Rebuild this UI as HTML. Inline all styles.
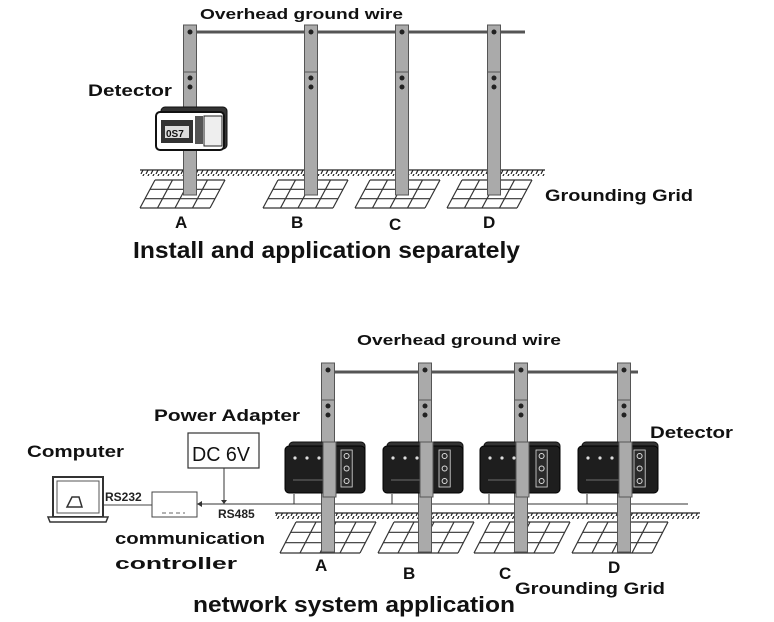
<!DOCTYPE html>
<html><head><meta charset="utf-8"><style>
html,body{margin:0;padding:0;background:#fff;}
svg{display:block;font-family:"Liberation Sans","DejaVu Sans",sans-serif;font-weight:bold;}
</style></head><body>
<svg id="s" width="774" height="622" viewBox="0 0 774 622" xmlns="http://www.w3.org/2000/svg">
<defs>
<pattern id="hatch" width="5" height="6" patternUnits="userSpaceOnUse">
<line x1="4" y1="0" x2="1" y2="6" stroke="#222" stroke-width="1.2"/>
</pattern>
</defs>
<line x1="190" y1="32" x2="525" y2="32" stroke="#555" stroke-width="3"/>
<rect x="140" y="170" width="405" height="6" fill="url(#hatch)"/>
<line x1="140" y1="170" x2="545" y2="170" stroke="#222" stroke-width="1.2"/>
<g id="top"></g>
<text x="200" y="19" font-size="15" fill="#111" textLength="203" lengthAdjust="spacingAndGlyphs">Overhead ground wire</text>
<text x="88" y="96" font-size="17" fill="#111" textLength="84" lengthAdjust="spacingAndGlyphs">Detector</text>
<text x="545" y="201" font-size="17" fill="#111" textLength="148" lengthAdjust="spacingAndGlyphs">Grounding Grid</text>
<text x="175" y="228" font-size="17" fill="#111">A</text>
<text x="291" y="228" font-size="17" fill="#111">B</text>
<text x="389" y="230" font-size="17" fill="#111">C</text>
<text x="483" y="228" font-size="17" fill="#111">D</text>
<text x="133" y="258" font-size="23" fill="#111" textLength="387" lengthAdjust="spacingAndGlyphs">Install and application separately</text>
<line x1="328" y1="372" x2="638" y2="372" stroke="#555" stroke-width="3"/>
<rect x="275" y="513" width="425" height="6" fill="url(#hatch)"/>
<line x1="275" y1="513" x2="700" y2="513" stroke="#222" stroke-width="1.2"/>
<line x1="197" y1="504" x2="688" y2="504" stroke="#333" stroke-width="1"/>
<g id="bot"></g>
<text x="357" y="345" font-size="15" fill="#111" textLength="204" lengthAdjust="spacingAndGlyphs">Overhead ground wire</text>
<text x="650" y="438" font-size="17" fill="#111" textLength="83" lengthAdjust="spacingAndGlyphs">Detector</text>
<text x="515" y="594" font-size="17" fill="#111" textLength="150" lengthAdjust="spacingAndGlyphs">Grounding Grid</text>
<text x="315" y="571" font-size="17" fill="#111">A</text>
<text x="403" y="579" font-size="17" fill="#111">B</text>
<text x="499" y="579" font-size="17" fill="#111">C</text>
<text x="608" y="573" font-size="17" fill="#111">D</text>
<text x="193" y="612" font-size="22" fill="#111" textLength="322" lengthAdjust="spacingAndGlyphs">network system application</text>
<text x="27" y="457" font-size="17" fill="#111" textLength="97" lengthAdjust="spacingAndGlyphs">Computer</text>
<text x="154" y="421" font-size="17" fill="#111" textLength="146" lengthAdjust="spacingAndGlyphs">Power Adapter</text>
<rect x="188" y="433" width="71" height="35" fill="#fff" stroke="#333" stroke-width="1.2"/>
<text x="192" y="461" font-size="20" font-weight="normal" fill="#111" textLength="58" lengthAdjust="spacingAndGlyphs">DC 6V</text>
<line x1="224" y1="468" x2="224" y2="503" stroke="#333"/>
<polygon points="221,500 227,500 224,504" fill="#333"/>
<rect x="152" y="492" width="45" height="25" fill="#fff" stroke="#444" stroke-width="1"/>
<line x1="162" y1="513" x2="185" y2="513" stroke="#666" stroke-dasharray="4,3"/>
<polygon points="197,504 202,501 202,507" fill="#333"/>
<text x="218" y="518" font-size="12" fill="#222">RS485</text>
<text x="105" y="501" font-size="12" fill="#222">RS232</text>
<line x1="101" y1="505" x2="152" y2="505" stroke="#444"/>
<rect x="53" y="477" width="50" height="40" fill="#fff" stroke="#333" stroke-width="2"/>
<rect x="57" y="481" width="42" height="32" fill="#fff" stroke="#555"/>
<polygon points="48,517 108,517 106,522 50,522" fill="#fff" stroke="#333" stroke-width="1.5"/>
<path d="M67 507 L72 497 L79 497 L82 507 Z" fill="none" stroke="#333" stroke-width="1.5"/>
<text x="115" y="544" font-size="17" fill="#111" textLength="150" lengthAdjust="spacingAndGlyphs">communication</text>
<text x="115" y="569" font-size="17" fill="#111" textLength="122" lengthAdjust="spacingAndGlyphs">controller</text>
</svg>
<script>
var NS="http://www.w3.org/2000/svg";
function el(p,t,a){var e=document.createElementNS(NS,t);for(var k in a)e.setAttribute(k,a[k]);p.appendChild(e);return e;}
function grid(p,x,y,w,h,sk){
  var g=el(p,"g",{stroke:"#333","stroke-width":"1.2",fill:"none"});
  for(var i=0;i<=3;i++){var yy=y+h*i/3,off=sk*(1-i/3);el(g,"line",{x1:x+off,y1:yy,x2:x+off+w,y2:yy});}
  for(var j=0;j<=4;j++){var xx=x+w*j/4;el(g,"line",{x1:xx+sk,y1:y,x2:xx,y2:y+h});}
}
function pole(p,cx,top,bot,joint,w){
  el(p,"rect",{x:cx-w/2,y:top,width:w,height:bot-top,fill:"#aaa",stroke:"#555","stroke-width":"1"});
  el(p,"line",{x1:cx-w/2,y1:joint,x2:cx+w/2,y2:joint,stroke:"#555"});
  el(p,"circle",{cx:cx,cy:top+7,r:2.5,fill:"#222"});
  el(p,"circle",{cx:cx,cy:joint+6,r:2.5,fill:"#222"});
  el(p,"circle",{cx:cx,cy:joint+15,r:2.5,fill:"#222"});
}
function dev(p,x,y,w,h){
  el(p,"rect",{x:x+4,y:y-4,width:w-4,height:h,rx:4,fill:"#333",stroke:"#111"});
  el(p,"rect",{x:x,y:y,width:w,height:h,rx:4,fill:"#1e1e1e",stroke:"#000"});
  el(p,"rect",{x:x+w*0.7,y:y+4,width:w*0.14,height:h-10,fill:"#2a2a2a",stroke:"#ddd","stroke-width":"0.8"});
  for(var i=0;i<3;i++)el(p,"circle",{cx:x+w*0.77,cy:y+10+i*(h-22)/2,r:2.5,fill:"none",stroke:"#ddd"});
  for(var i=0;i<3;i++)el(p,"circle",{cx:x+10+i*12,cy:y+12,r:1.6,fill:"#ddd"});
  el(p,"line",{x1:x+8,y1:y+h-13,x2:x+w*0.6,y2:y+h-13,stroke:"#888","stroke-width":"0.8"});
}
var t=document.getElementById("top");
[[190,140],[311,263],[402,355],[494,447]].forEach(function(a){grid(t,a[1],180,70,28,15);});
[[190,72],[311,72],[402,72],[494,72]].forEach(function(a){pole(t,a[0],25,195,a[1],13);});
el(t,"rect",{x:161,y:107,width:66,height:42,rx:4,fill:"#333",stroke:"#111"});
el(t,"rect",{x:156,y:112,width:68,height:38,rx:4,fill:"#fff",stroke:"#111","stroke-width":"2"});
el(t,"rect",{x:161,y:120,width:32,height:23,fill:"#333"});
el(t,"rect",{x:165,y:126,width:24,height:12,fill:"#ddd"});
var tx=el(t,"text",{x:166,y:137,"font-size":"10",fill:"#111"});tx.textContent="0S7";
el(t,"rect",{x:195,y:116,width:8,height:28,fill:"#555"});
el(t,"rect",{x:204,y:116,width:18,height:30,fill:"#eee",stroke:"#222"});
var b=document.getElementById("bot");
[[328,280],[425,378],[521,474],[624,572]].forEach(function(a){grid(b,a[1],522,80,31,16);});
[328,425,521,624].forEach(function(cx){pole(b,cx,363,552,400,13);});
[[285,328],[383,425],[480,521],[578,624]].forEach(function(a){
  dev(b,a[0],446,80,47);
  el(b,"line",{x1:a[0]+9,y1:494,x2:a[0]+9,y2:504,stroke:"#333"});
  el(b,"rect",{x:a[1]-5,y:442,width:13,height:55,fill:"#aaa",stroke:"#555"});
});
</script>
</body></html>
